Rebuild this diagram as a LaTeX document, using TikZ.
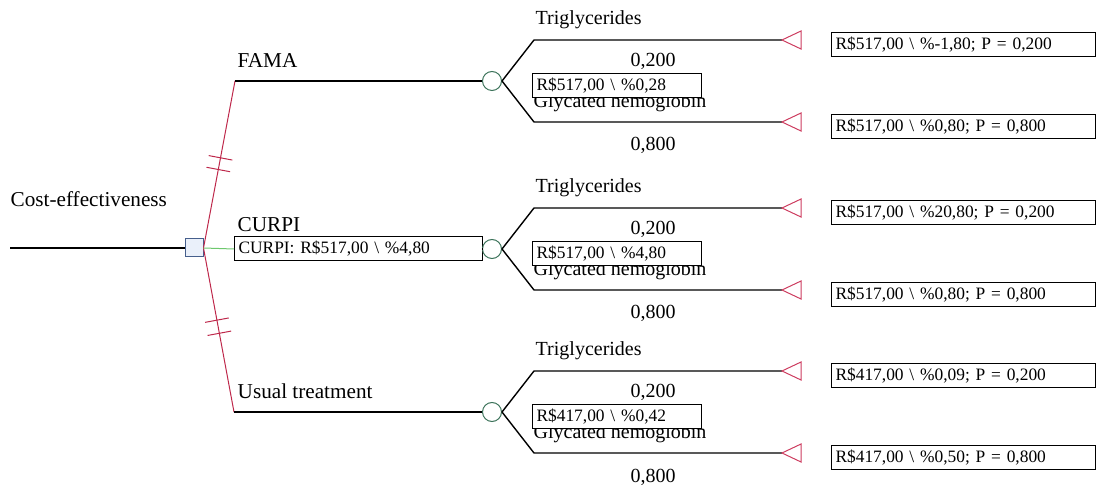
\documentclass[tikz,border=0pt]{standalone}
\usepackage{fontspec}
\setmainfont{Liberation Serif}
\usetikzlibrary{calc}

\definecolor{decline}{RGB}{190,40,75}
\definecolor{decnode}{RGB}{70,95,140}
\definecolor{decfill}{RGB}{234,240,250}
\definecolor{chnode}{RGB}{60,115,90}
\definecolor{termcol}{RGB}{205,60,95}
\definecolor{optgreen}{RGB}{110,200,110}

\newcommand{\lblfont}{\fontsize{10.6}{12}\selectfont}
\newcommand{\brfont}{\fontsize{10}{12}\selectfont}
\newcommand{\valfont}{\fontsize{8.7}{10}\selectfont}

\tikzset{
	decision/.style={rectangle, draw=decnode, fill=decfill, minimum size=9pt, inner sep=0pt, line width=0.5pt},
	chance/.style={circle, draw=chnode, fill=white, minimum size=9.5pt, inner sep=0pt, line width=0.5pt},
	terminal/.style={draw=termcol, line width=0.5pt},
	valbox/.style={draw, fill=white, anchor=west, align=left, inner xsep=2pt, inner ysep=0pt, minimum height=12pt, line width=0.5pt, font=\valfont},
	lbl/.style={anchor=base west, inner sep=0pt, font=\lblfont},
	br/.style={anchor=base west, inner sep=0pt, font=\brfont},
	prob/.style={anchor=base, inner sep=0pt, font=\brfont},
	hash/.style={draw=decline, line width=0.5pt}
}

\begin{document}
\begin{tikzpicture}
	[x=0.5pt,y=-0.5pt,line width=0.7pt]
	\useasboundingbox (0,0) rectangle (1103,491);
	\node[decision] (dec) at (194,248) {};
	\coordinate (root) at (10,248);
	\node[lbl] (title) at (10,207) {Cost-effectiveness};
	\draw (root) -- (dec);
	
	\coordinate (fama) at (235,81);
	\coordinate (usual) at (234,412);
	\node[lbl] (lfama) at (237,68) {FAMA};
	\node[lbl] (lcurpi) at (237,232) {CURPI};
	\node[lbl] (lusual) at (237,399) {Usual treatment};
	\node[valbox, text width=120pt] (curpi) at (234,249) {CURPI: R\$517,00 \textbackslash\ \%4,80};
	
	\draw[decline, line width=0.5pt] (dec.east) -- (fama);
	\draw[decline, line width=0.5pt] (dec.east) -- (usual);
	\draw[optgreen, line width=0.5pt] (dec.east) -- (curpi.west);
	\foreach \to/\p in {fama/0.47,fama/0.54,usual/0.44,usual/0.52}
	{
		\coordinate (m) at ($(dec.east)!\p!(\to)$);
		\draw[hash] ($(m)!6pt!90:(\to)$) -- ($(m)!6pt!-90:(\to)$);
	}
	
	\foreach \n/\cy/\ev/\ta/\tb in {
		f/81/{R\$517,00 \textbackslash\ \%0,28}/{R\$517,00 \textbackslash\ \%-1,80; P = 0,200}/{R\$517,00 \textbackslash\ \%0,80; P = 0,800},
		c/249/{R\$517,00 \textbackslash\ \%4,80}/{R\$517,00 \textbackslash\ \%20,80; P = 0,200}/{R\$517,00 \textbackslash\ \%0,80; P = 0,800},
		u/412/{R\$417,00 \textbackslash\ \%0,42}/{R\$417,00 \textbackslash\ \%0,09; P = 0,200}/{R\$417,00 \textbackslash\ \%0,50; P = 0,800}}
	{
		\node[chance] (ch\n) at (492,\cy) {};
		\coordinate (up\n) at (534,\cy-41);
		\coordinate (lo\n) at (534,\cy+41);
		\coordinate (tu\n) at (782,\cy-41);
		\coordinate (tl\n) at (782,\cy+41);
		\node[br] (tri\n) at (535,\cy-56) {Triglycerides};
		\node[prob] (pu\n) at (653,\cy-14) {0,200};
		\node[br] (gly\n) at (533,\cy+27) {Glycated hemoglobin};
		\node[prob] (pl\n) at (653,\cy+70) {0,800};
		\draw (ch\n.east) -- (up\n) -- (tu\n);
		\draw (ch\n.east) -- (lo\n) -- (tl\n);
		\node[valbox, text width=80.5pt] (ev\n) at (532,\cy+5) {\ev};
		\node[valbox, text width=128pt] (vu\n) at (831,\cy-36) {\ta};
		\node[valbox, text width=128pt] (vl\n) at (831,\cy+46) {\tb};
		\foreach \q in {tu\n,tl\n}
			\draw[terminal] (\q) -- ++(19,-9) -- ++(0,18) -- cycle;
	}
	\draw (fama) -- (chf);
	\draw (usual) -- (chu);
	\draw (curpi.east) -- (chc);
\end{tikzpicture}
\end{document}
